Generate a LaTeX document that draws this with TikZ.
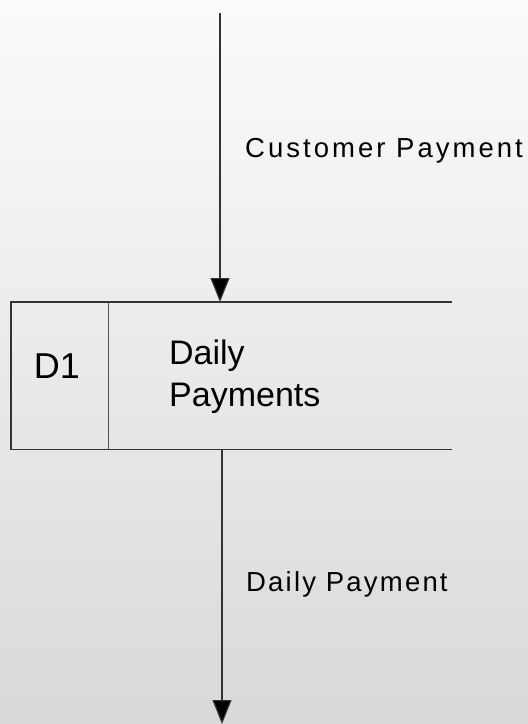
\documentclass[tikz,border=0pt]{standalone}
\usepackage{fontspec}
\setmainfont{Liberation Sans}
\usetikzlibrary{arrows.meta,positioning}
\definecolor{bgtop}{HTML}{FBFBFB}
\definecolor{bgbottom}{HTML}{D9D9D9}
\definecolor{linegray}{HTML}{333333}
\begin{document}
\begin{tikzpicture}[
    x=1pt,y=-1pt,
    flow/.style={draw=linegray,line width=1.2pt,-{Triangle[width=19pt,length=24pt,fill=black]}},
    storeline/.style={draw=linegray,line width=1.6pt},
    divline/.style={draw=linegray!85,line width=1pt},
    cell/.style={rectangle,inner sep=0pt,minimum height=147},
    celltext/.style={inner sep=0pt,font=\fontsize{34}{42}\selectfont},
    flowlabel/.style={anchor=base west,inner sep=0pt,font={\fontsize{27.5}{32}\selectfont\addfontfeatures{LetterSpace=#1}}},
    flowlabel/.default=8
  ]
  \shade[top color=bgtop,bottom color=bgbottom] (0,0) rectangle (528,724);
  \useasboundingbox (0,0) rectangle (528,724);

  % data store D1
  \node[cell,minimum width=97,anchor=north west] (idcell) at (11,302) {};
  \node[cell,minimum width=343,anchor=north west] (namecell) at (idcell.north east) {};
  \node[celltext,font=\fontsize{36}{42}\selectfont] (id) at (57,366) {D1};
  \node[celltext,align=left,anchor=north west] (name) at (169,340) {Daily\\Payments};
  \draw[storeline] (namecell.north east) -- (idcell.north west) -- (idcell.south west) -- (namecell.south east);
  \draw[divline] (idcell.north east) -- (idcell.south east);

  % flows
  \coordinate (src) at (220,13);
  \coordinate (sink) at (222,724);
  \draw[flow] (src) -- (src |- namecell.north);
  \draw[flow] (namecell.south -| sink) -- (sink);
  \node[flowlabel=11] (inlabel) at (245,157) {Customer Payment};
  \node[flowlabel] (outlabel) at (246,591) {Daily Payment};
\end{tikzpicture}
\end{document}
